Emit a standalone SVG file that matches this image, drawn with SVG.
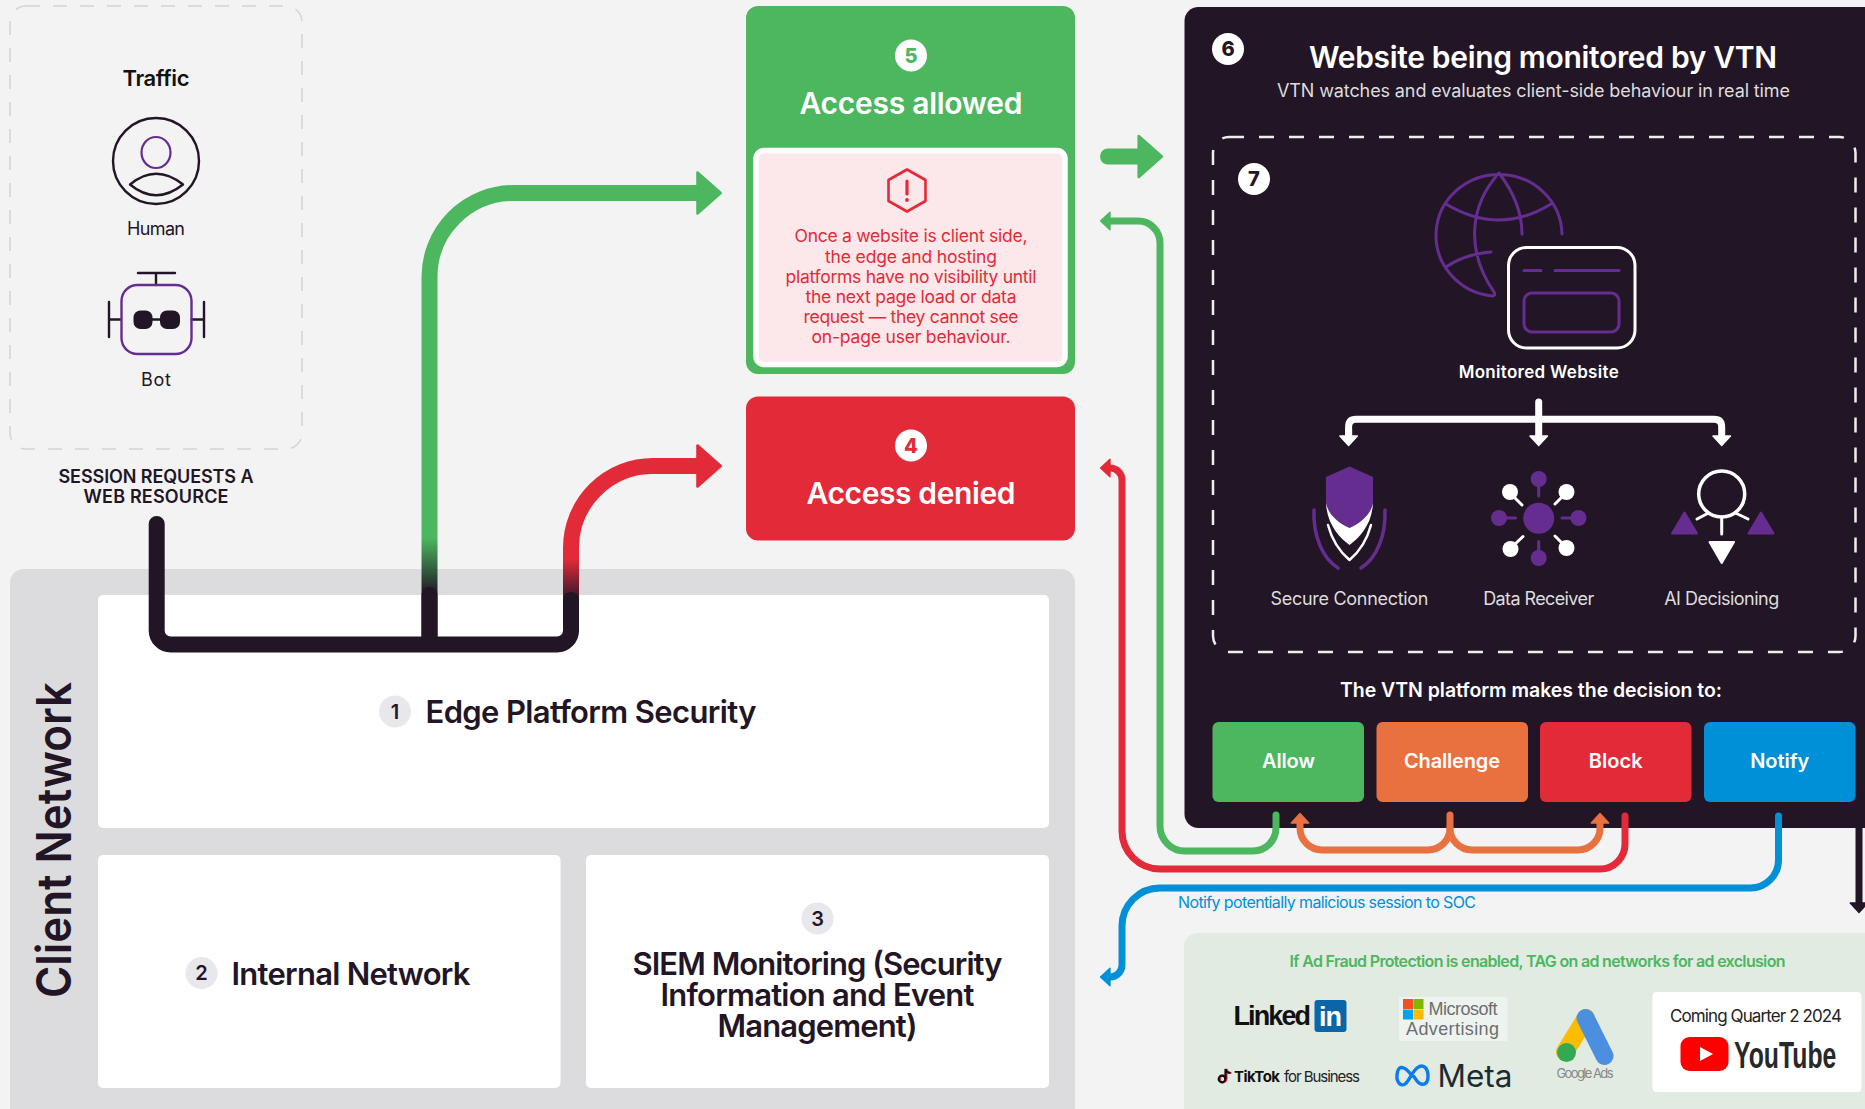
<svg xmlns="http://www.w3.org/2000/svg" width="1865" height="1109" viewBox="0 0 1865 1109">
<style>
text{font-family:Inter,"Liberation Sans",sans-serif}
.m{text-anchor:middle}
.w{fill:#fff}.k{fill:#221626}
.b6{font-weight:600}.b7{font-weight:700}
.dig{font-weight:800;font-size:20px;text-anchor:middle}
.badge{fill:#E8E7EB}
.panel{fill:#fff}
.pu{fill:none;stroke:#662D91;stroke-width:3;stroke-linecap:round;stroke-linejoin:round}
.wl{fill:none;stroke:#fff;stroke-width:3;stroke-linecap:round;stroke-linejoin:round}
.pf{fill:#662D91}.wf{fill:#fff}
.ik{fill:none;stroke:#221626;stroke-width:2.4;stroke-linecap:round;stroke-linejoin:round}
.c{fill:none;stroke-linecap:round;stroke-linejoin:round}
.thin{stroke-width:7}
.thick{stroke-width:16}
.big{font-size:30px;font-weight:600;fill:#fff;text-anchor:middle}
.note{font-size:17.5px;fill:#E32A39;text-anchor:middle}
.lab{font-size:18px;fill:#ddd;text-anchor:middle}
.btn{font-size:20px;font-weight:600;fill:#fff;text-anchor:middle}
.h2{font-size:31px;font-weight:600;fill:#221626}
</style>
<defs>
<linearGradient id="gg" gradientUnits="userSpaceOnUse" x1="0" y1="538" x2="0" y2="594"><stop offset="0" stop-color="#4CB75F"/><stop offset="1" stop-color="#221626"/></linearGradient>
<linearGradient id="gr" gradientUnits="userSpaceOnUse" x1="0" y1="559" x2="0" y2="603"><stop offset="0" stop-color="#E32A39"/><stop offset="1" stop-color="#221626"/></linearGradient>
<marker id="hG" viewBox="-0.1 -1.6 1.8 3.2" refX="0" refY="0" markerWidth="1.8" markerHeight="3.2" orient="auto"><path d="M0-1.28L1.45 0 0 1.28Z" fill="#4CB75F" stroke="#4CB75F" stroke-width=".16" stroke-linejoin="round"/></marker>
<marker id="hR" viewBox="-0.1 -1.6 1.8 3.2" refX="0" refY="0" markerWidth="1.8" markerHeight="3.2" orient="auto"><path d="M0-1.28L1.45 0 0 1.28Z" fill="#E32A39" stroke="#E32A39" stroke-width=".16" stroke-linejoin="round"/></marker>
<marker id="tG" viewBox="-0.1 -1.6 1.8 3.2" refX="0" refY="0" markerWidth="1.8" markerHeight="3.2" orient="auto"><path d="M0-1.25L1.35 0 0 1.25Z" fill="#4CB75F" stroke="#4CB75F" stroke-width=".2" stroke-linejoin="round"/></marker>
<marker id="tR" viewBox="-0.1 -1.6 1.8 3.2" refX="0" refY="0" markerWidth="1.8" markerHeight="3.2" orient="auto"><path d="M0-1.25L1.35 0 0 1.25Z" fill="#E32A39" stroke="#E32A39" stroke-width=".2" stroke-linejoin="round"/></marker>
<marker id="tO" viewBox="-0.1 -1.6 1.8 3.2" refX="0" refY="0" markerWidth="1.8" markerHeight="3.2" orient="auto"><path d="M0-1.25L1.35 0 0 1.25Z" fill="#E9703F" stroke="#E9703F" stroke-width=".2" stroke-linejoin="round"/></marker>
<marker id="tB" viewBox="-0.1 -1.6 1.8 3.2" refX="0" refY="0" markerWidth="1.8" markerHeight="3.2" orient="auto"><path d="M0-1.25L1.35 0 0 1.25Z" fill="#0090D7" stroke="#0090D7" stroke-width=".2" stroke-linejoin="round"/></marker>
<marker id="tK" viewBox="-0.1 -1.6 1.8 3.2" refX="0" refY="0" markerWidth="1.8" markerHeight="3.2" orient="auto"><path d="M0-1.25L1.35 0 0 1.25Z" fill="#221626" stroke="#221626" stroke-width=".2" stroke-linejoin="round"/></marker>
<marker id="tW" viewBox="-0.1 -1.6 1.8 3.2" refX="0" refY="0" markerWidth="1.8" markerHeight="3.2" orient="auto"><path d="M0-1.25L1.35 0 0 1.25Z" fill="#fff" stroke="#fff" stroke-width=".2" stroke-linejoin="round"/></marker>
</defs>
<rect width="1865" height="1109" fill="#F3F3F3"/>

<g id="traffic">
<rect x="10" y="6" width="292" height="443" rx="16" fill="none" stroke="#D4D4D6" stroke-width="1.5" stroke-dasharray="14 13"/>
<text class="m b6" x="156" y="85.500" font-size="22" fill="#111" textLength="67">Traffic</text>
<circle class="ik" cx="156" cy="161" r="43"/>
<ellipse class="pu" cx="156" cy="152.500" rx="14.500" ry="15.500" style="stroke-width:2.2"/>
<path class="ik" d="M130 184.500Q156 163 183 184.500Q156 206 130 184.500Z"/>
<text class="m" x="156" y="235" font-size="18" fill="#221626" textLength="58">Human</text>
<path class="ik" d="M138 273H175M156 273V285M109 302V337M109 319.500H121M204 302V337M191.500 319.500H204M152 319.500H160"/>
<rect class="pu" x="121.500" y="285" width="70" height="69" rx="16" style="stroke-width:2.4"/>
<rect x="133.500" y="310.500" width="19" height="18.500" rx="7" class="k"/>
<rect x="160" y="310.500" width="20" height="18.500" rx="7" class="k"/>
<text class="m" x="156" y="386" font-size="18" fill="#221626" textLength="30">Bot</text>
<text class="m b6 k" x="156" y="482.500" font-size="18" textLength="195">SESSION REQUESTS A</text>
<text class="m b6 k" x="156" y="503" font-size="18" textLength="145">WEB RESOURCE</text>
</g>

<g id="client-network">
<rect x="10" y="569" width="1065" height="560" rx="14" fill="#DCDCDE"/>
<text class="b6 m" transform="translate(71 840) rotate(-90)" font-size="48" fill="#221626" lengthAdjust="spacingAndGlyphs" textLength="316">Client Network</text>
</g>
<g id="edge-platform">
<rect class="panel" x="98" y="595" width="951" height="233" rx="5"/>
<circle class="badge" cx="395" cy="711.500" r="16"/><text class="dig k" x="395" y="718.500" style="font-weight:600">1</text>
<text class="h2" x="425.500" y="723" textLength="331">Edge Platform Security</text>
</g>
<g id="internal-network">
<rect class="panel" x="98" y="855" width="462.500" height="233" rx="5"/>
<circle class="badge" cx="201.500" cy="973" r="16"/><text class="dig k" x="201.500" y="980" style="font-weight:600">2</text>
<text class="h2" x="231.500" y="985" textLength="239">Internal Network</text>
</g>
<g id="siem">
<rect class="panel" x="586" y="855" width="463" height="233" rx="5"/>
<circle class="badge" cx="817.500" cy="918.500" r="16"/><text class="dig k" x="817.500" y="925.500" style="font-weight:600">3</text>
<text class="h2 m"><tspan x="817.500" y="975" textLength="370">SIEM Monitoring (Security</tspan><tspan x="817.500" y="1006" textLength="314">Information and Event</tspan><tspan x="817.500" y="1037" textLength="200">Management)</tspan></text>
</g>

<g id="access-allowed">
<rect x="746" y="6" width="329" height="368" rx="12" fill="#4CB75F"/>
<circle class="wf" cx="911" cy="55.500" r="16"/><text class="dig" x="911" y="62.500" fill="#4CB75F">5</text>
<text class="big" x="911" y="114" textLength="223">Access allowed</text>
<rect x="756" y="150.500" width="309" height="214" rx="8" fill="#FCE8EA" stroke="#fff" stroke-width="5.500"/>
<path d="M907 169.500L925.500 180V201L907 211.500 888.500 201V180Z" fill="none" stroke="#E32A39" stroke-width="2.600" stroke-linejoin="round"/>
<path d="M907 181V194" stroke="#E32A39" stroke-width="3.200" stroke-linecap="round"/><circle cx="907" cy="200" r="1.900" fill="#E32A39"/>
<text class="note" x="911" y="242" textLength="233">Once a website is client side,</text>
<text class="note" x="911" y="262.500" textLength="172">the edge and hosting</text>
<text class="note" x="911" y="283" textLength="251">platforms have no visibility until</text>
<text class="note" x="911" y="303" textLength="211">the next page load or data</text>
<text class="note" x="911" y="323" textLength="215">request — they cannot see</text>
<text class="note" x="911" y="343" textLength="199">on-page user behaviour.</text>
</g>
<g id="access-denied">
<rect x="746" y="396.500" width="329" height="144" rx="12" fill="#E32A39"/>
<circle class="wf" cx="911" cy="445.500" r="16"/><text class="dig" x="911" y="452.500" fill="#E32A39">4</text>
<text class="big" x="911" y="503.500" textLength="209">Access denied</text>
</g>

<g id="vtn-website">
<rect x="1184.500" y="7" width="720" height="821" rx="14" fill="#221626"/>
<circle class="wf" cx="1228" cy="49" r="16"/><text class="dig k" x="1228" y="56">6</text>
<text class="m b6 w" x="1543" y="68" font-size="30" textLength="468">Website being monitored by VTN</text>
<text class="m" x="1533.500" y="97" font-size="18" fill="#ddd" textLength="513">VTN watches and evaluates client-side behaviour in real time</text>
<rect x="1213" y="137" width="642.500" height="515" rx="16" fill="none" stroke="#eee" stroke-width="2.500" stroke-dasharray="15 15"/>
<circle class="wf" cx="1254" cy="179" r="16"/><text class="dig k" x="1254" y="186">7</text>
</g>
<g id="monitored-website">
<path class="pu" d="M1562 234A63 61 0 1 0 1492 296Q1496 296 1494 292C1465 250 1470 205 1499 173C1512 190 1522 210 1522 234M1446 204Q1499 236 1551 204M1446 267Q1465 254 1491 252"/>
<rect class="wl" x="1508.500" y="247.500" width="126.500" height="100.500" rx="18"/>
<path class="pu" d="M1524 270.500H1541M1555 270.500H1619"/>
<rect class="pu" x="1524" y="293" width="95" height="39" rx="8"/>
<text class="m b6 w" x="1538.700" y="377.500" font-size="17" textLength="160">Monitored Website</text>
</g>
<g id="secure-connection">
<path class="pf" d="M1349.500 466.500L1373 477V503C1373 514 1358 524 1349.500 528C1341 524 1326 514 1326 503V477Z"/>
<path class="wf" d="M1326 503C1327 525 1340 538 1349.500 545C1359 538 1372 525 1373 503C1371 515 1359 524 1349.500 528C1340 524 1328 515 1326 503Z"/>
<path class="wl" d="M1328 525C1332 540 1340 552 1349.500 560C1359 552 1367 540 1371 525" style="stroke-width:2.500"/>
<path class="pu" style="stroke-width:3.500" d="M1314 510C1313 535 1322 558 1338 568M1385 510C1386 535 1377 558 1361 568"/>
<text class="lab" x="1349.500" y="605" textLength="158">Secure Connection</text>
</g>
<g id="data-receiver">
<circle class="pf" cx="1538.700" cy="518.300" r="15.500"/>
<circle class="pf" cx="1538.700" cy="479" r="8"/><circle class="pf" cx="1499" cy="518" r="8"/><circle class="pf" cx="1578.500" cy="518" r="8"/><circle class="pf" cx="1538.700" cy="558" r="8"/>
<path class="pu" d="M1538.700 480V496M1500 518H1515.500M1562 518H1578M1538.700 541.500V558"/>
<circle class="wf" cx="1510" cy="492" r="8"/><circle class="wf" cx="1566.500" cy="492" r="8"/><circle class="wf" cx="1510.500" cy="549" r="8"/><circle class="wf" cx="1566.500" cy="548" r="8"/>
<path class="wl" d="M1512 495L1522 505M1564 495L1555 504M1513 546L1523 536.500M1564 545L1555 536"/>
<text class="lab" x="1538.700" y="605" textLength="111">Data Receiver</text>
</g>
<g id="ai-decisioning">
<circle class="wl" cx="1721.700" cy="494" r="23" style="stroke-width:3.500"/>
<path class="wl" d="M1721.700 517V534M1708.500 513L1697 519M1735.500 513L1748 519"/>
<path class="wf" stroke="#fff" stroke-width="2" stroke-linejoin="round" d="M1709.500 542H1734L1721.700 563Z"/>
<path class="pf" stroke="#662D91" stroke-width="2" stroke-linejoin="round" d="M1684.500 512.500L1697 533.500H1672ZM1761 512.500L1773.500 533.500H1748.500Z"/>
<text class="lab" x="1721.700" y="605" textLength="115">AI Decisioning</text>
</g>
<text class="m b6 w" x="1531" y="696.500" font-size="19.500" textLength="382">The VTN platform makes the decision to:</text>
<g id="allow"><rect x="1212.500" y="722" width="151.500" height="80" rx="6" fill="#4CB75F"/><text class="btn" x="1288.500" y="767.500" textLength="53">Allow</text></g>
<g id="challenge"><rect x="1376.500" y="722" width="151.500" height="80" rx="6" fill="#E9703F"/><text class="btn" x="1452" y="767.500" textLength="96">Challenge</text></g>
<g id="block"><rect x="1540" y="722" width="151.500" height="80" rx="6" fill="#E32A39"/><text class="btn" x="1615.700" y="767.500" textLength="54">Block</text></g>
<g id="notify"><rect x="1704" y="722" width="151.500" height="80" rx="6" fill="#0090D7"/><text class="btn" x="1779.700" y="767.500" textLength="59">Notify</text></g>

<text id="notify-label" x="1178" y="908" font-size="16" fill="#0090D7" textLength="298">Notify potentially malicious session to SOC</text>

<g id="ad-networks">
<rect x="1184" y="933" width="720" height="200" rx="14" fill="#E1EBE2"/>
<text class="m b6" x="1537.500" y="966.500" font-size="16" fill="#4CB75F" textLength="496">If Ad Fraud Protection is enabled, TAG on ad networks for ad exclusion</text>
<g id="linkedin">
<text x="1233.500" y="1025" font-size="27" font-weight="700" fill="#111" style="font-family:'Liberation Sans',sans-serif" textLength="77.500">Linked</text>
<rect x="1314.500" y="1000" width="32" height="32" rx="3" fill="#0A66A8"/>
<text x="1319" y="1026" font-size="27" font-weight="700" fill="#fff" style="font-family:'Liberation Sans',sans-serif" textLength="23">in</text>
</g>
<g id="microsoft">
<rect x="1399" y="997" width="108.500" height="44" fill="#EDF3EE"/>
<rect x="1403" y="999" width="10" height="10" fill="#F25022"/><rect x="1413.500" y="999" width="10" height="10" fill="#7FBA00"/><rect x="1403" y="1009.500" width="10" height="10" fill="#00A4EF"/><rect x="1413.500" y="1009.500" width="10" height="10" fill="#FFB900"/>
<text font-size="18" fill="#6E6E6E" style="font-family:'Liberation Sans',sans-serif"><tspan x="1428.500" y="1015" textLength="69">Microsoft</tspan><tspan x="1406" y="1035" textLength="93">Advertising</tspan></text>
</g>
<g id="google-ads">
<path d="M1586 1018L1565 1052" stroke="#FBBC04" stroke-width="18" stroke-linecap="round"/>
<path d="M1585.500 1018L1604.500 1056" stroke="#4A8FE0" stroke-width="18" stroke-linecap="round"/>
<circle cx="1566.500" cy="1052.500" r="9.500" fill="#34A853"/>
<text class="m" x="1585" y="1078" font-size="13" fill="#888" textLength="57">Google Ads</text>
</g>
<g id="tiktok">
<path d="M1226.500 1079V1069Q1227.500 1073 1231.500 1073" fill="none" stroke="#FE2C55" stroke-width="2.200"/><circle cx="1223" cy="1079" r="3.300" fill="none" stroke="#FE2C55" stroke-width="2.200"/>
<path d="M1225.500 1079V1069Q1226.500 1073 1230.500 1073" fill="none" stroke="#111" stroke-width="2.200"/><circle cx="1222" cy="1079" r="3.300" fill="none" stroke="#111" stroke-width="2.200"/>
<text x="1234" y="1082" font-size="15" font-weight="700" fill="#111" textLength="46">TikTok</text>
<text x="1284" y="1082" font-size="15" fill="#222" textLength="76">for Business</text>
</g>
<g id="meta">
<path d="M1412 1076C1405 1066 1399 1065 1397.500 1072C1395 1082 1401 1087 1405 1084C1409 1081 1412 1072 1417 1068C1423 1063 1428 1068 1428 1076C1428 1086 1421 1086 1417 1081L1412 1074" fill="none" stroke="#0A7CF0" stroke-width="3.400" stroke-linecap="round"/>
<text x="1437.500" y="1086.500" font-size="31" fill="#1C2B33" lengthAdjust="spacingAndGlyphs" textLength="75">Meta</text>
</g>
<g id="youtube">
<rect x="1652.500" y="992" width="209" height="100" rx="4" fill="#fff"/>
<text class="m" x="1756" y="1022" font-size="17" fill="#222" textLength="172">Coming Quarter 2 2024</text>
<rect x="1680.500" y="1037" width="48" height="34" rx="9" fill="#f00"/>
<path d="M1700 1047L1713 1054 1700 1061Z" fill="#fff"/>
<text transform="translate(1734 1068) scale(.67 1)" font-size="37" font-weight="700" fill="#282828" style="font-family:'Liberation Sans',sans-serif">YouTube</text>
</g>
</g>

<g id="connectors">
<path class="c thick" stroke="url(#gg)" d="M429.500 640V277A84 84 0 0 1 513.500 193H697.500" marker-end="url(#hG)"/>
<path class="c thick" stroke="url(#gr)" d="M571 630V548A82 82 0 0 1 653 466H697.500" marker-end="url(#hR)"/>
<path class="c thick" stroke="#221626" d="M156.700 524V630.500A14 14 0 0 0 170.700 644.500H557A14 14 0 0 0 571 630.500V600M429.500 640V595"/>
<path class="c thick" stroke="#4CB75F" d="M1108 156.500H1138.700" marker-end="url(#hG)"/>
<path class="c thin" stroke="#4CB75F" d="M1276 815V828A23 23 0 0 1 1253 851H1185A25 25 0 0 1 1160 826V243A22 22 0 0 0 1138 221H1110" marker-end="url(#tG)"/>
<path class="c thin" stroke="#E32A39" d="M1625 816V844A25 25 0 0 1 1600 869H1160A38 38 0 0 1 1122 831V480A12 12 0 0 0 1110 468" marker-end="url(#tR)"/>
<path class="c thin" stroke="#E9703F" d="M1450 815V828A22 22 0 0 1 1428 850H1322A22 22 0 0 1 1300 828V823" marker-end="url(#tO)"/>
<path class="c thin" stroke="#E9703F" d="M1450 828A22 22 0 0 0 1472 850H1578A22 22 0 0 0 1600 828V823" marker-end="url(#tO)"/>
<path class="c thin" stroke="#0090D7" d="M1778.500 816V860A28 28 0 0 1 1750.500 888H1160A38 38 0 0 0 1122 926V965A12 12 0 0 1 1110 977" marker-end="url(#tB)"/>
<path class="c thin" stroke="#221626" d="M1859 828V903" marker-end="url(#tK)"/>
<path class="c thin" stroke="#fff" d="M1538.700 402V436" marker-end="url(#tW)"/>
<path class="c thin" stroke="#fff" d="M1348.600 436V427Q1348.600 419.300 1356 419.300H1714Q1721.700 419.300 1721.700 427V436" marker-end="url(#tW)"/>
<path class="c thin" stroke="#fff" d="M1348.600 430V436" marker-end="url(#tW)"/>
</g>
</svg>
